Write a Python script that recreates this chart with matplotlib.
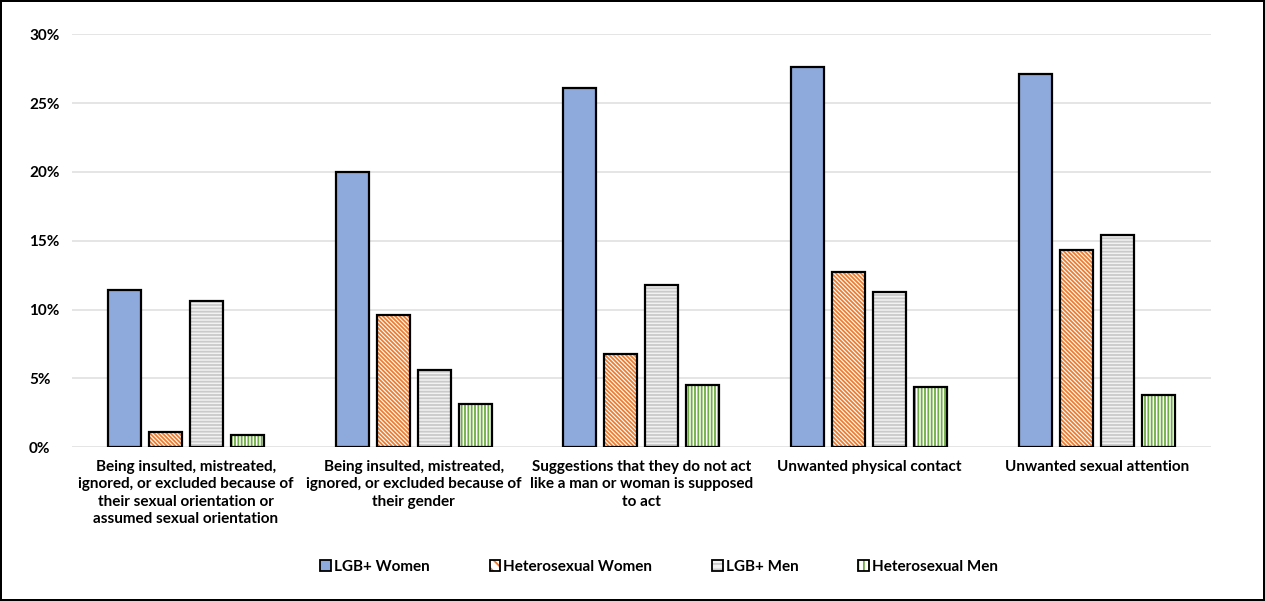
import matplotlib
matplotlib.use("Agg")
import matplotlib.pyplot as plt
import numpy as np
from matplotlib.patches import Patch
from matplotlib.legend_handler import HandlerTuple

plt.rcParams['font.family'] = ['Lato', 'DejaVu Sans']
plt.rcParams['font.weight'] = 'bold'
plt.rcParams['hatch.linewidth'] = 1.3

categories = [
    "Being insulted, mistreated,\nignored, or excluded because of\ntheir sexual orientation or\nassumed sexual orientation",
    "Being insulted, mistreated,\nignored, or excluded because of\ntheir gender",
    "Suggestions that they do not act\nlike a man or woman is supposed\nto act",
    "Unwanted physical contact",
    "Unwanted sexual attention",
]
series_names = ["LGB+ Women", "Heterosexual Women", "LGB+ Men", "Heterosexual Men"]
lgb_women = [11.4, 20.0, 26.1, 27.6, 27.1]
het_women = [1.1, 9.6, 6.8, 12.7, 14.3]
lgb_men = [10.6, 5.6, 11.8, 11.3, 15.4]
het_men = [0.9, 3.1, 4.5, 4.4, 3.8]
yticks = [0, 5, 10, 15, 20, 25, 30]
ytick_labels = ["0%", "5%", "10%", "15%", "20%", "25%", "30%"]

series = [lgb_women, het_women, lgb_men, het_men]
styles = [
    dict(face="#8EA9DB", hatch=None, hcolor=None),
    dict(face="white", hatch="\\" * 8, hcolor="#ED7D31"),
    dict(face="#F2F2F2", hatch="-----", hcolor="#CACACA"),
    dict(face="white", hatch="|||||", hcolor="#70AD47"),
]

fig = plt.figure(figsize=(12.65, 6.01), dpi=100)
fig.patch.set_edgecolor("black")
fig.patch.set_linewidth(1.5)
ax = fig.add_axes([0.057, 0.256, 0.900, 0.687])

x = np.arange(len(categories))
step = 0.18
width = 0.145
handles = []
for i, (vals, st) in enumerate(zip(series, styles)):
    pos = x + (i - 1.5) * step
    if st["hatch"]:
        ax.bar(pos, vals, width, color=st["face"], edgecolor=st["hcolor"],
               hatch=st["hatch"], linewidth=0, zorder=3)
        h1 = Patch(facecolor=st["face"], edgecolor=st["hcolor"], hatch=st["hatch"][:3], linewidth=0)
    else:
        ax.bar(pos, vals, width, color=st["face"], linewidth=0, zorder=3)
        h1 = Patch(facecolor=st["face"], linewidth=0)
    ax.bar(pos, vals, width, fill=False, edgecolor="black", linewidth=1.6, zorder=4)
    h2 = Patch(fill=False, edgecolor="black", linewidth=1.3)
    handles.append((h1, h2))

ax.set_xlim(-0.5, len(categories) - 0.5)
ax.set_ylim(0, 30)
ax.set_yticks(yticks)
ax.set_yticklabels(ytick_labels, fontsize=11, fontweight="bold")
ax.set_xticks(x)
ax.set_xticklabels(categories, fontsize=11, fontweight="bold", linespacing=1.32)
ax.tick_params(axis="both", length=0)
ax.tick_params(axis="x", pad=9)
ax.tick_params(axis="y", pad=31)
for lab in ax.get_yticklabels():
    lab.set_horizontalalignment("left")
ax.grid(axis="y", color="#E0E0E0", linewidth=1.2, zorder=0)
for s in ax.spines.values():
    s.set_visible(False)

leg = fig.legend(handles, series_names, handler_map={tuple: HandlerTuple(ndivide=1, pad=0)},
                 loc="center", bbox_to_anchor=(0.521, 0.057), ncol=4, frameon=False,
                 prop={"size": 11, "weight": "bold"}, handlelength=0.7, handleheight=0.8,
                 handletextpad=0.2, columnspacing=3.9)

fig.savefig("out.png", dpi=100, edgecolor=fig.get_edgecolor())
